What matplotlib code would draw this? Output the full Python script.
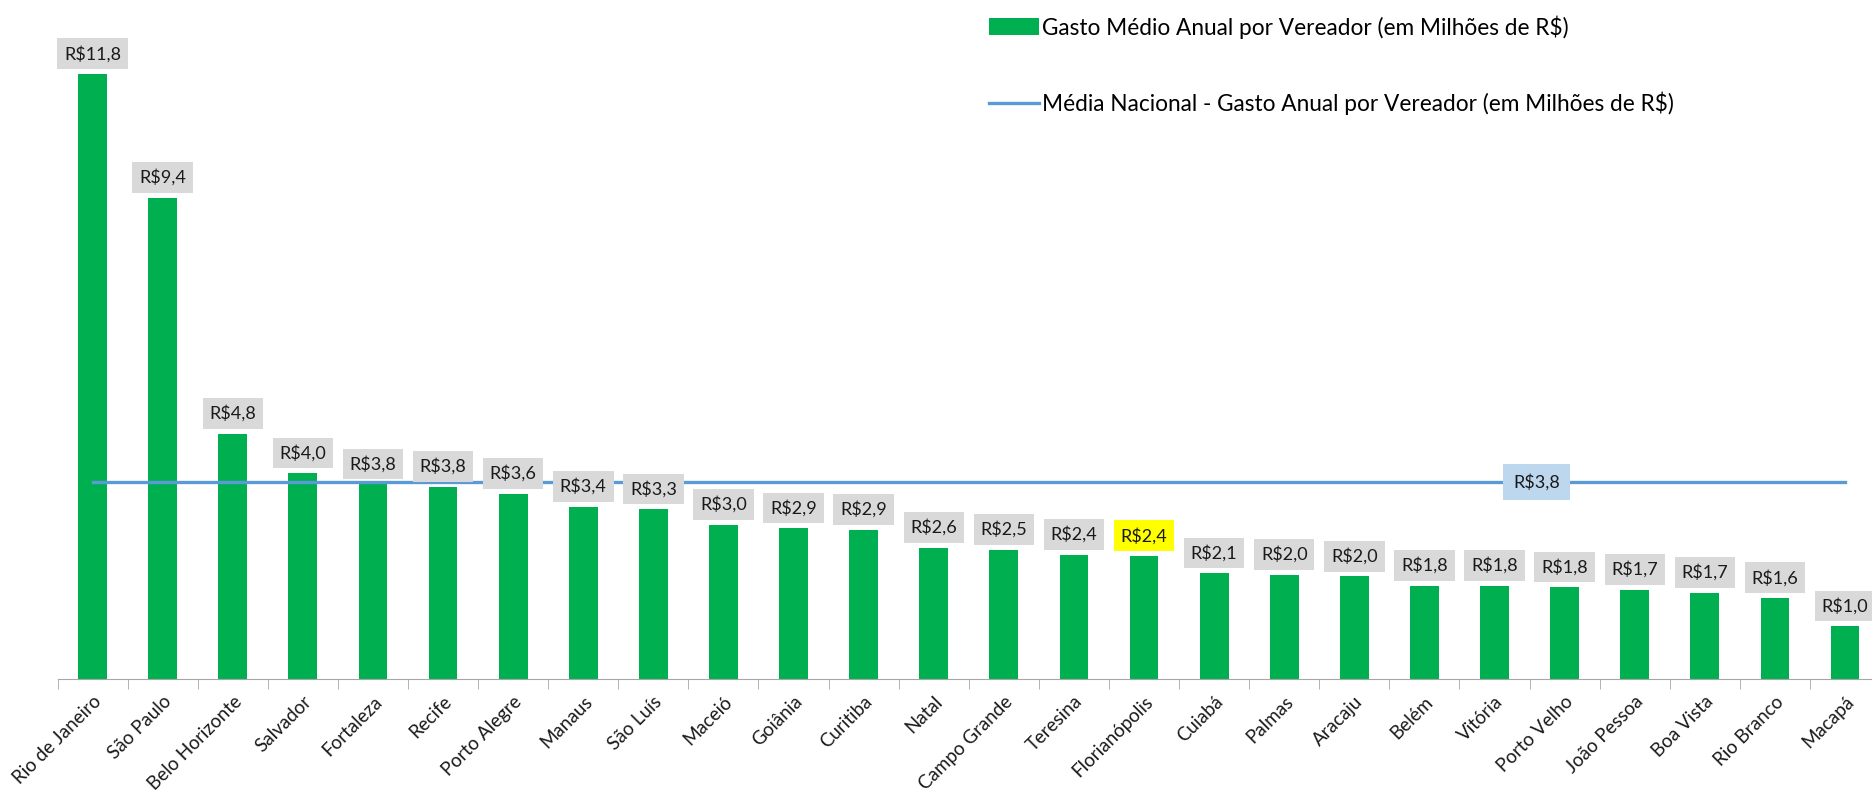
import matplotlib
matplotlib.use("Agg")
import matplotlib.pyplot as plt
from matplotlib.patches import Patch
from matplotlib.lines import Line2D

cidades = [
    "Rio de Janeiro", "São Paulo", "Belo Horizonte", "Salvador", "Fortaleza",
    "Recife", "Porto Alegre", "Manaus", "São Luís", "Maceió", "Goiânia",
    "Curitiba", "Natal", "Campo Grande", "Teresina", "Florianópolis", "Cuiabá",
    "Palmas", "Aracaju", "Belém", "Vitória", "Porto Velho", "João Pessoa",
    "Boa Vista", "Rio Branco", "Macapá",
]
gasto = [
    11.80, 9.39, 4.78, 4.01, 3.80, 3.75, 3.61, 3.36, 3.31, 3.01, 2.94, 2.91,
    2.56, 2.52, 2.42, 2.40, 2.06, 2.03, 2.00, 1.82, 1.82, 1.79, 1.74, 1.68,
    1.58, 1.03,
]
media_nacional = 3.84
destaque = "Florianópolis"

plt.rcParams["font.family"] = ["Lato", "DejaVu Sans"]

fig = plt.figure(figsize=(18.72, 7.9), dpi=100)
ax = fig.add_axes([57.5 / 1872, 1 - 679 / 790, 26 * 70.1 / 1872, 605 / 790 * 13.0 / 11.8])

x = list(range(len(cidades)))
ax.bar(x, gasto, width=0.41, color="#00b050", zorder=2)
ax.plot([0, len(cidades) - 1], [media_nacional] * 2, color="#5b9bd5", lw=2.4, zorder=3)

ax.set_xlim(-0.5, len(cidades) - 0.5)
ax.set_ylim(0, 13.0)

def fmt(v):
    return "R$" + f"{v:.1f}".replace(".", ",")

for xi, v, nome in zip(x, gasto, cidades):
    cor = "#ffff00" if nome == destaque else "#d9d9d9"
    ax.annotate(fmt(v), (xi, v), xytext=(0, 8.5), textcoords="offset points",
                ha="center", va="bottom", fontsize=13, color="#1a1a1a",
                bbox=dict(boxstyle="square,pad=0.38", fc=cor, ec="none"),
                zorder=4)

ax.text(20.6, media_nacional, fmt(media_nacional), ha="center", va="center",
        fontsize=13, color="#1a1a1a",
        bbox=dict(boxstyle="square,pad=0.55", fc="#bdd7ee", ec="none"), zorder=5)

for s in ["top", "right", "left"]:
    ax.spines[s].set_visible(False)
ax.spines["bottom"].set_color("#a6a6a6")
ax.set_yticks([])
ax.set_xticks(x)
ax.set_xticklabels(cidades, rotation=45, ha="right", rotation_mode="anchor",
                   fontsize=13.5, color="#1a1a1a")
ax.tick_params(axis="x", which="major", length=0, pad=10)
ax.set_xticks([i - 0.5 for i in range(len(cidades) + 1)], minor=True)
ax.tick_params(axis="x", which="minor", length=7, color="#a6a6a6", direction="out")

handles = [
    Patch(facecolor="#00b050", edgecolor="none"),
    Line2D([0], [0], color="#5b9bd5", lw=2.4),
]
rotulos = [
    "Gasto Médio Anual por Vereador (em Milhões de R$)",
    "Média Nacional - Gasto Anual por Vereador (em Milhões de R$)",
]
fig.legend(handles, rotulos, loc="upper left", bbox_to_anchor=(980 / 1872, 1 - 6 / 790),
           frameon=False, fontsize=16.3, handlelength=2.2, handleheight=0.75,
           handletextpad=0.15, labelspacing=2.35, borderaxespad=0)

fig.savefig("out.png", dpi=100)
